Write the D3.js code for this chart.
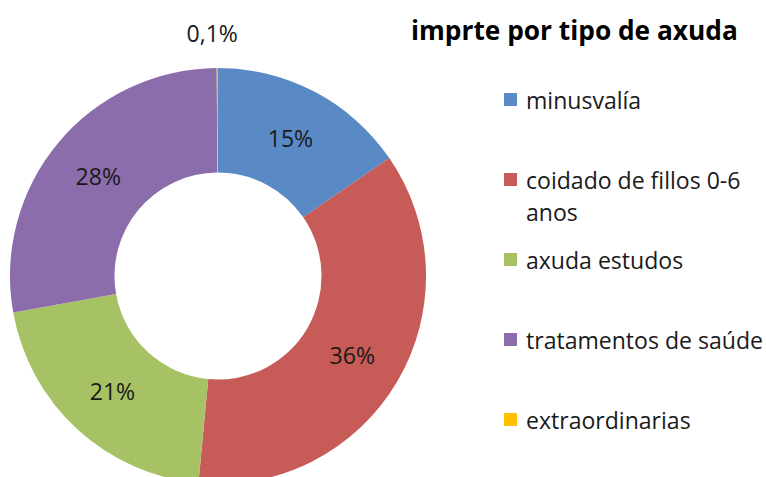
<!DOCTYPE html>
<html><head><meta charset="utf-8">
<script src="https://cdn.jsdelivr.net/npm/d3@7"></script>
<style>body{margin:0;background:#fff;} svg{display:block;}</style>
</head><body>
<svg id="c" width="766" height="477"></svg>
<script>
const title = "imprte por tipo de axuda";
const categories = ["minusvalía", "coidado de fillos 0-6 anos", "axuda estudos", "tratamentos de saúde", "extraordinarias"];
const legendLines = [["minusvalía"], ["coidado de fillos 0-6", "anos"], ["axuda estudos"], ["tratamentos de saúde"], ["extraordinarias"]];
const values = [15.4, 36.1, 20.7, 27.7, 0.1];
const colors = ["#5A8AC6", "#C65B57", "#A6C264", "#8A6DAA", "#FFC000"];

const font = "'Open Sans', sans-serif";
const svg = d3.select("#c");
const cx = 218, cy = 276, R = 208, r = 103.5;
const total = d3.sum(values);
const pie = d3.pie().sort(null).value(d => d);
const arcs = pie(values);
const arc = d3.arc().innerRadius(r).outerRadius(R);
const labelArc = d3.arc().innerRadius((R + r) / 2).outerRadius((R + r) / 2);
const color = d3.scaleOrdinal().domain(categories).range(colors);

// fit font sizes to reference widths
function fit(text, weight, targetW) {
  const t = svg.append("text").attr("font-family", font).attr("font-weight", weight)
    .attr("font-size", 20).text(text);
  const w = t.node().getComputedTextLength();
  t.remove();
  return 20 * targetW / w;
}
const legendSize = fit("tratamentos de saúde", "normal", 237);
const titleSize = fit(title, "bold", 327);

const g = svg.append("g").attr("transform", `translate(${cx},${cy})`);
g.selectAll("path").data(arcs).join("path")
  .attr("d", arc)
  .attr("fill", (d, i) => color(categories[i]));

const fmt = v => {
  const p = v / total * 100;
  return p < 1 ? d3.format(".1f")(p).replace(".", ",") + "%" : Math.round(p) + "%";
};
g.selectAll("text.lbl").data(arcs).join("text")
  .attr("class", "lbl")
  .attr("transform", (d, i) => {
    if (values[i] / total < 0.01) {
      const a = (d.startAngle + d.endAngle) / 2;
      return `translate(${Math.sin(a) * 243 - 5},${-Math.cos(a) * 243})`;
    }
    return `translate(${labelArc.centroid(d)})`;
  })
  .attr("text-anchor", "middle")
  .attr("dominant-baseline", "central")
  .attr("font-family", font)
  .attr("font-size", legendSize)
  .attr("fill", "#1a1a1a")
  .text(d => fmt(d.data));

svg.append("text")
  .attr("x", 411).attr("y", 40)
  .attr("font-family", font)
  .attr("font-weight", "bold")
  .attr("font-size", titleSize)
  .attr("fill", "#000")
  .text(title);

const rowY = d3.scalePoint().domain(categories).range([100, 420]);
const lg = svg.append("g");
categories.forEach((c, i) => {
  const y = rowY(c);
  lg.append("rect").attr("x", 504).attr("y", y - 7).attr("width", 13).attr("height", 13)
    .attr("fill", color(c));
  legendLines[i].forEach((line, j) => {
    lg.append("text").attr("x", 526).attr("y", y + j * 32)
      .attr("dominant-baseline", "central")
      .attr("font-family", font).attr("font-size", legendSize).attr("fill", "#1a1a1a")
      .text(line);
  });
});
</script>
</body></html>
